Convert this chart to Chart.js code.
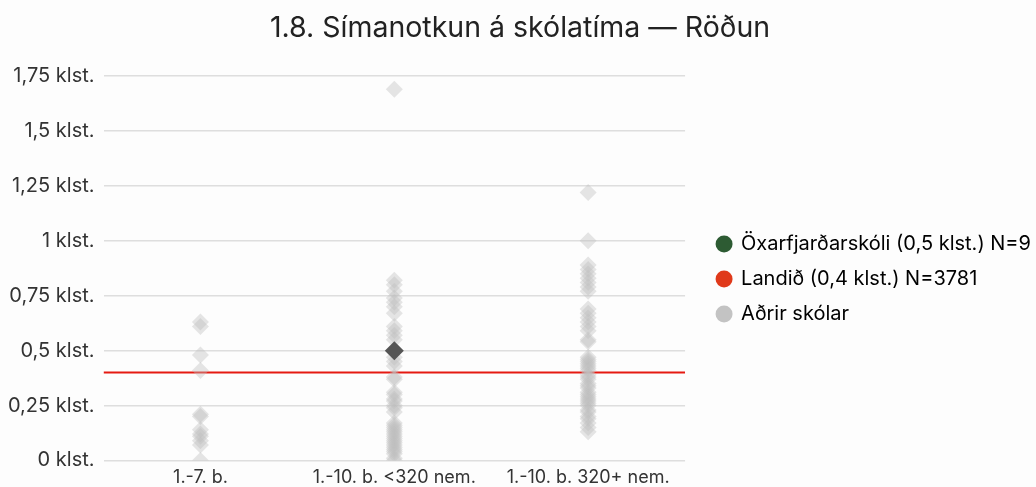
<!DOCTYPE html>
<html lang="is">
<head>
<meta charset="utf-8">
<title>Símanotkun á skólatíma</title>
<script src="https://cdn.jsdelivr.net/npm/chart.js@4.4.1/dist/chart.umd.min.js"></script>
<style>
  html, body { margin: 0; padding: 0; background: #fdfdfd; }
  #wrap { width: 1036px; height: 487px; }
</style>
</head>
<body>
<div id="wrap"><canvas id="graf"></canvas></div>
<script>
// flokkar á x-ás
const flokkar = ["1.-7. b.", "1.-10. b. <320 nem.", "1.-10. b. 320+ nem."];

// meðaltal hvers skóla (klst.) eftir flokkum
const skolar1til7 = [0.63, 0.61, 0.48, 0.41, 0.21, 0.2, 0.14, 0.12, 0.11, 0.09, 0.07, 0];
const skolarUndir320 = [1.69, 0.82, 0.8, 0.77, 0.74, 0.72, 0.7, 0.67, 0.61, 0.59, 0.57, 0.55,
  0.47, 0.45, 0.43, 0.38, 0.37, 0.31, 0.3, 0.28, 0.27, 0.25, 0.24, 0.22, 0.17, 0.16, 0.15,
  0.14, 0.13, 0.12, 0.11, 0.1, 0.09, 0.08, 0.07, 0.06, 0.05, 0.04, 0.03, 0.01, 0];
const skolarYfir320 = [1.22, 1.0, 0.89, 0.87, 0.85, 0.83, 0.81, 0.79, 0.77, 0.69, 0.67, 0.65,
  0.63, 0.61, 0.59, 0.55, 0.54, 0.47, 0.46, 0.45, 0.44, 0.43, 0.42, 0.41, 0.39, 0.38, 0.37,
  0.35, 0.34, 0.33, 0.31, 0.3, 0.29, 0.28, 0.27, 0.26, 0.25, 0.23, 0.22, 0.2, 0.19, 0.17,
  0.15, 0.13];

// skólinn sjálfur og landið
const skoliFlokkur = 1;
const skoliGildi = 0.5;
const landid = 0.4;

const yTikk = [0, 0.25, 0.5, 0.75, 1, 1.25, 1.5, 1.75];

const skyringar = ["Öxarfjarðarskóli (0,5 klst.) N=9", "Landið (0,4 klst.) N=3781", "Aðrir skólar"];
const skyringaLitir = ["#2d5b33", "#e0391a", "#c3c3c3"];

const adrir = [];
[skolar1til7, skolarUndir320, skolarYfir320].forEach((listi, i) => {
  listi.forEach(v => adrir.push({ x: i, y: v }));
});

const klst = v => String(v).replace(".", ",") + " klst.";

// bil vinstra megin við skýringar og lóðrétt hliðrun þeirra
const skyringBil = 17;
const skyringNidur = 32;

const skyringaStadsetning = {
  id: "skyringaStadsetning",
  beforeInit(chart) {
    const fit = chart.legend.fit;
    chart.legend.fit = function () {
      fit.call(this);
      this.width += skyringBil;
    };
  },
  afterLayout(chart) {
    const l = chart.legend;
    l.left += skyringBil;
    l.right += skyringBil;
    l.top += skyringNidur;
    l.bottom += skyringNidur;
  }
};

Chart.defaults.font.family = "Inter, 'Noto Sans', sans-serif";
Chart.defaults.color = "#333";

new Chart(document.getElementById("graf"), {
  type: "scatter",
  plugins: [skyringaStadsetning],
  data: {
    datasets: [
      {
        label: skyringar[0],
        data: [{ x: skoliFlokkur, y: skoliGildi }],
        pointStyle: "rectRot",
        pointRadius: 9.5,
        backgroundColor: "#555555",
        borderWidth: 0,
        order: 0
      },
      {
        label: skyringar[2],
        data: adrir,
        pointStyle: "rectRot",
        pointRadius: 8.5,
        backgroundColor: "rgba(190,190,190,0.4)",
        borderWidth: 0,
        order: 1
      },
      {
        label: skyringar[1],
        type: "line",
        data: [{ x: -0.5, y: landid }, { x: flokkar.length - 0.5, y: landid }],
        borderColor: "#e51a12",
        borderWidth: 2,
        pointRadius: 0,
        order: 2
      }
    ]
  },
  options: {
    responsive: true,
    maintainAspectRatio: false,
    animation: false,
    layout: { padding: { left: -1, right: -5, top: 0, bottom: -7 } },
    plugins: {
      title: {
        display: true,
        text: "1.8. Símanotkun á skólatíma — Röðun",
        color: "#222",
        font: { size: 28.5, weight: "normal" },
        padding: { top: 11, bottom: 31 }
      },
      tooltip: { enabled: false },
      legend: {
        position: "right",
        align: "center",
        maxWidth: 400,
        labels: {
          usePointStyle: true,
          pointStyle: "circle",
          boxWidth: 14,
          boxHeight: 12,
          padding: 15,
          color: "#333",
          font: { size: 20 },
          generateLabels: () => skyringar.map((t, i) => ({
            text: t,
            fillStyle: skyringaLitir[i],
            strokeStyle: skyringaLitir[i],
            lineWidth: 0,
            pointStyle: "circle",
            hidden: false,
            datasetIndex: i
          }))
        }
      }
    },
    scales: {
      x: {
        type: "linear",
        min: -0.5,
        max: flokkar.length - 0.5,
        afterBuildTicks: s => { s.ticks = flokkar.map((_, i) => ({ value: i })); },
        ticks: {
          callback: v => flokkar[v],
          font: { size: 18 },
          color: "#333",
          padding: 6,
          maxRotation: 0
        },
        grid: { display: false, drawTicks: false },
        border: { display: false }
      },
      y: {
        min: 0,
        max: 1.75,
        afterBuildTicks: s => { s.ticks = yTikk.map(v => ({ value: v })); },
        ticks: {
          callback: v => klst(v),
          font: { size: 20 },
          color: "#333",
          padding: 9
        },
        grid: { color: "#dedede", lineWidth: 1.5, drawTicks: false },
        border: { display: false }
      }
    }
  }
});
</script>
</body>
</html>
